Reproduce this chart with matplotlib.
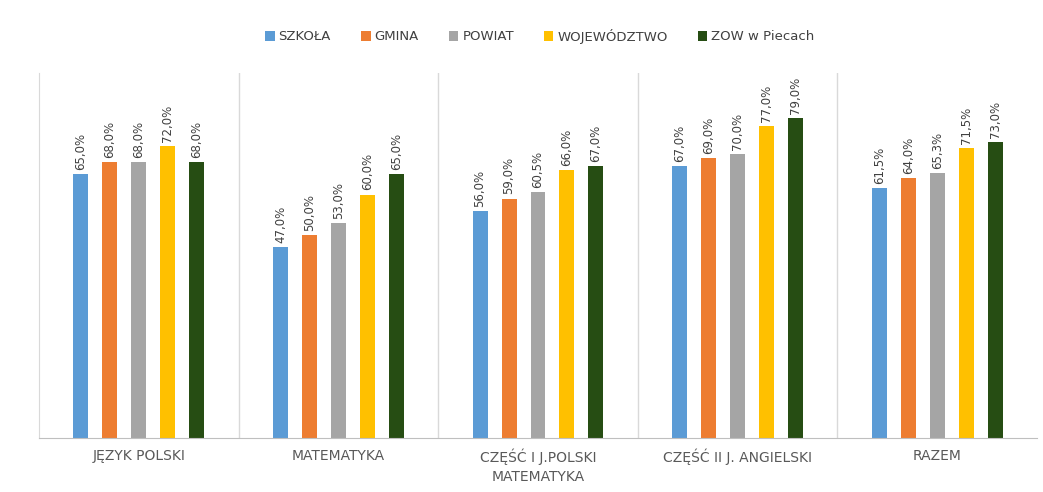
import numpy as np
import matplotlib
matplotlib.use("Agg")
import matplotlib.pyplot as plt

matplotlib.rcParams.update({
    "font.family": "DejaVu Sans",
    "font.size": 9,
})

categories = ["JĘZYK POLSKI", "MATEMATYKA", "CZĘŚĆ I J.POLSKI\nMATEMATYKA",
              "CZĘŚĆ II J. ANGIELSKI", "RAZEM"]
series = ["SZKOŁA", "GMINA", "POWIAT", "WOJEWÓDZTWO", "ZOW w Piecach"]
szkola      = [65.0, 47.0, 56.0, 67.0, 61.5]
gmina       = [68.0, 50.0, 59.0, 69.0, 64.0]
powiat      = [68.0, 53.0, 60.5, 70.0, 65.3]
wojewodztwo = [72.0, 60.0, 66.0, 77.0, 71.5]
zow         = [68.0, 65.0, 67.0, 79.0, 73.0]
values = [szkola, gmina, powiat, wojewodztwo, zow]
colors = ["#5B9BD5", "#ED7D31", "#A5A5A5", "#FFC000", "#264D13"]

fig = plt.figure(figsize=(10.43, 4.92), dpi=100)
ax = fig.add_axes([39/1043, 1 - 437.5/492, 998/1043, 364.5/492])

x = np.arange(len(categories))
width = 0.075
step = 0.145
for i, (name, vals, c) in enumerate(zip(series, values, colors)):
    pos = x + (i - 2) * step
    ax.bar(pos, vals, width=width, color=c, label=name)
    for p, v in zip(pos, vals):
        ax.text(p, v + 1.0, f"{v:.1f}%".replace(".", ","), rotation=90,
                ha="center", va="bottom", fontsize=8.5, color="#404040")

ax.set_xlim(-0.5, len(categories) - 0.5)
ax.set_ylim(0, 90)
ax.set_yticks([])
ax.set_xticks(x)
ax.set_xticklabels(categories, color="#595959", fontsize=10, linespacing=1.4)
ax.tick_params(axis="x", length=0, pad=8)
for b in np.arange(0.5, len(categories) - 0.5, 1.0):
    ax.axvline(b, color="#D9D9D9", lw=1)
for s in ["top", "right"]:
    ax.spines[s].set_visible(False)
ax.spines["left"].set_color("#D9D9D9")
ax.spines["bottom"].set_color("#BFBFBF")

fig.legend(loc="center", bbox_to_anchor=(540/1043, 1 - 36/492), ncol=5,
           frameon=False, handlelength=0.7, handleheight=0.7,
           columnspacing=2.3, handletextpad=0.3, fontsize=9.5,
           labelcolor="#404040")

fig.savefig("out.png", dpi=100, facecolor="white")
